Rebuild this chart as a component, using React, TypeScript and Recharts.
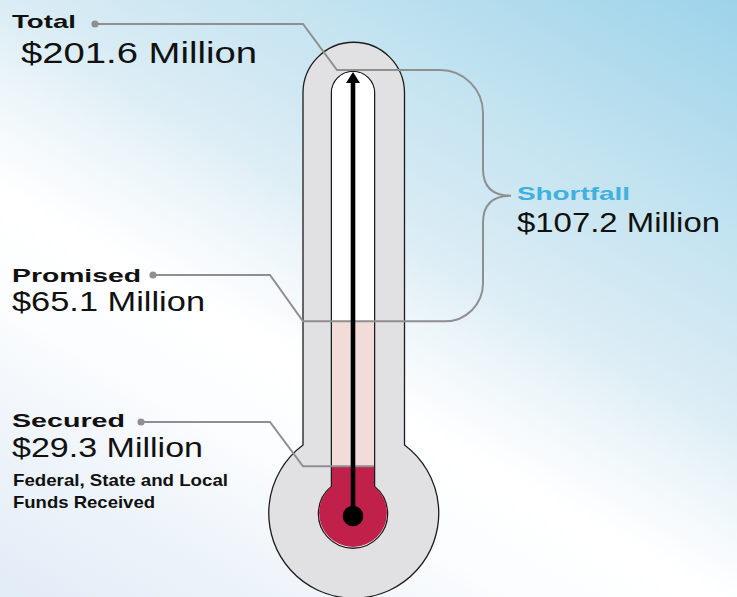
import React from "react";
import { ComposedChart, Bar, XAxis, YAxis, Rectangle } from "recharts";

// $ millions
const LEVEL_LABELS = ["Secured", "Promised", "Total"];
const LEVEL_VALUES = [29.3, 65.1, 201.6];
const SHORTFALL_LABEL = "Shortfall";
const SHORTFALL_VALUE = 107.2;
const SECURED_NOTE = ["Federal, State and Local", "Funds Received"];
const CATEGORIES = ["Campaign"];
// reading that sits at the centre of the bulb
const GAUGE_FLOOR = 22;

const [SECURED, PROMISED, TOTAL] = LEVEL_VALUES;

// the poster's thermometer is not drawn to scale; a fifth-root gauge
// reproduces its spacing between the three levels
const gauge = (v: number) => Math.pow(v, 0.2);
const money = (v: number) => `$${v.toFixed(1)} Million`;

const data = CATEGORIES.map((name) => ({
  name,
  shortfall: [gauge(PROMISED), gauge(TOTAL)],
  promised: [gauge(SECURED), gauge(PROMISED)],
  secured: [gauge(GAUGE_FLOOR), gauge(SECURED)],
  reading: [gauge(GAUGE_FLOOR), gauge(TOTAL)],
}));

const W = 737;
const H = 597;
const GRAY = "#8f8f91";
const INK = "#111";
const RED = "#c1204a";
const PINK = "#f2dcda";
const CASE = "#e1e1e3";
const BLUE = "#3fb1dc";
const FONT = "'Liberation Sans', Arial, Helvetica, sans-serif";
const BRACE_X = 483;

function Txt({ x, y, size, w, bold, fill = INK, children }: any) {
  return (
    <text
      x={x}
      y={y}
      fontSize={size}
      fontWeight={bold ? 700 : 400}
      fill={fill}
      fontFamily={FONT}
      textLength={w}
      lengthAdjust="spacingAndGlyphs"
    >
      {children}
    </text>
  );
}

const span = (p: any) => {
  const y = Number(p.y);
  const h = Number(p.height);
  return { top: Math.min(y, y + h), bot: Math.max(y, y + h) };
};

function ShortfallShape(p: any) {
  const { top, bot } = span(p);
  const lineY = top - 2;
  const mid = (lineY + bot) / 2;
  const tip = BRACE_X + 28;
  const d =
    `M 95 24 H 303 L 337 ${lineY} H ${BRACE_X - 43} ` +
    `A 43 43 0 0 1 ${BRACE_X} ${lineY + 43} V ${mid - 27} ` +
    `C ${BRACE_X} ${mid - 8} ${BRACE_X + 10} ${mid} ${tip} ${mid} ` +
    `C ${BRACE_X + 10} ${mid} ${BRACE_X} ${mid + 8} ${BRACE_X} ${mid + 27} ` +
    `V ${bot - 38} A 38 38 0 0 1 ${BRACE_X - 38} ${bot}`;
  return (
    <g>
      <Rectangle x={p.x} y={top} width={p.width} height={bot - top} radius={[21, 21, 0, 0]} fill="#fff" />
      <path d={d} fill="none" stroke={GRAY} strokeWidth={2} />
      <circle cx={95} cy={24} r={3.6} fill={GRAY} />
      <Txt x={12} y={28} size={19} w={64} bold>{LEVEL_LABELS[2]}</Txt>
      <Txt x={21} y={63} size={29} w={236}>{money(TOTAL)}</Txt>
      <Txt x={517} y={200} size={19} w={113} bold fill={BLUE}>{SHORTFALL_LABEL}</Txt>
      <Txt x={517} y={232} size={28} w={203}>{money(SHORTFALL_VALUE)}</Txt>
    </g>
  );
}

function PromisedShape(p: any) {
  const { top, bot } = span(p);
  return (
    <g>
      <rect x={p.x} y={top} width={p.width} height={bot - top} fill={PINK} />
      <path
        d={`M 153 275 H 270 L 303 ${top} H ${BRACE_X - 38}`}
        fill="none"
        stroke={GRAY}
        strokeWidth={2}
      />
      <circle cx={153} cy={275} r={3.6} fill={GRAY} />
      <Txt x={12} y={282} size={19} w={129} bold>{LEVEL_LABELS[1]}</Txt>
      <Txt x={12} y={311} size={28} w={193}>{money(PROMISED)}</Txt>
    </g>
  );
}

function SecuredShape(p: any) {
  const { top, bot } = span(p);
  return (
    <g>
      <rect x={p.x} y={top} width={p.width} height={bot - top} fill={RED} />
      <path
        d={`M 141 422 H 270 L 303 ${top} H ${p.x + p.width}`}
        fill="none"
        stroke={GRAY}
        strokeWidth={2}
      />
      <circle cx={141} cy={422} r={3.6} fill={GRAY} />
      <Txt x={12} y={427} size={19} w={113} bold>{LEVEL_LABELS[0]}</Txt>
      <Txt x={12} y={457} size={28} w={191}>{money(SECURED)}</Txt>
      <Txt x={13} y={486} size={17} w={215} bold>{SECURED_NOTE[0]}</Txt>
      <Txt x={13} y={508} size={17} w={142} bold>{SECURED_NOTE[1]}</Txt>
    </g>
  );
}

function ReadingShape(p: any) {
  const { top, bot } = span(p);
  const cx = p.x + p.width / 2;
  return (
    <g>
      <line x1={cx} y1={bot} x2={cx} y2={top + 9} stroke="#000" strokeWidth={4.6} />
      <polygon points={`${cx},${top} ${cx - 7},${top + 11} ${cx + 7},${top + 11}`} fill="#000" />
      <circle cx={cx} cy={bot + 3} r={10.3} fill="#000" />
    </g>
  );
}

function Backdrop() {
  return (
    <svg width={W} height={H} style={{ position: "absolute", left: 0, top: 0 }}>
      <defs>
        <linearGradient id="sky" gradientUnits="userSpaceOnUse" x1={-255} y1={453} x2={178} y2={-315}>
          <stop offset="0" stopColor="#e2ecf7" />
          <stop offset="0.15" stopColor="#edf3fa" />
          <stop offset="0.29" stopColor="#fbfdfe" />
          <stop offset="0.4" stopColor="#ffffff" />
          <stop offset="0.5" stopColor="#eef6fa" />
          <stop offset="0.58" stopColor="#dcedf5" />
          <stop offset="0.76" stopColor="#c3e3f0" />
          <stop offset="1" stopColor="#9dd3ea" />
        </linearGradient>
      </defs>
      <rect width={W} height={H} fill="url(#sky)" />
      <path
        d="M 303 445 V 93 A 50.75 50.75 0 0 1 404.5 93 V 445 A 85 85 0 1 1 303 445 Z"
        fill={CASE}
        stroke="#1c1c1c"
        strokeWidth={1.3}
      />
      <path
        d="M 331.4 486.6 V 93 A 21.6 21.6 0 0 1 374.6 93 V 486.6 A 34.6 34.6 0 1 1 331.4 486.6 Z"
        fill="#fff"
        stroke="#1c1c1c"
        strokeWidth={1.3}
      />
      <circle cx={353} cy={513} r={33.9} fill={RED} />
    </svg>
  );
}

export default function App() {
  return (
    <div style={{ position: "absolute", left: 0, top: 0, width: W, height: H, overflow: "hidden" }}>
      <Backdrop />
      <div style={{ position: "absolute", left: 0, top: 0 }}>
        <ComposedChart
          width={W}
          height={H}
          data={data}
          margin={{ top: 72, right: 31, bottom: 84, left: 0 }}
        >
          <XAxis xAxisId="a" dataKey="name" hide />
          <XAxis xAxisId="b" dataKey="name" hide />
          <XAxis xAxisId="c" dataKey="name" hide />
          <XAxis xAxisId="d" dataKey="name" hide />
          <YAxis hide type="number" domain={[gauge(GAUGE_FLOOR), gauge(TOTAL)]} />
          <Bar xAxisId="a" dataKey="shortfall" barSize={42} shape={ShortfallShape} isAnimationActive={false} />
          <Bar xAxisId="b" dataKey="promised" barSize={42} shape={PromisedShape} isAnimationActive={false} />
          <Bar xAxisId="c" dataKey="secured" barSize={42} shape={SecuredShape} isAnimationActive={false} />
          <Bar xAxisId="d" dataKey="reading" barSize={42} shape={ReadingShape} isAnimationActive={false} />
        </ComposedChart>
      </div>
    </div>
  );
}
